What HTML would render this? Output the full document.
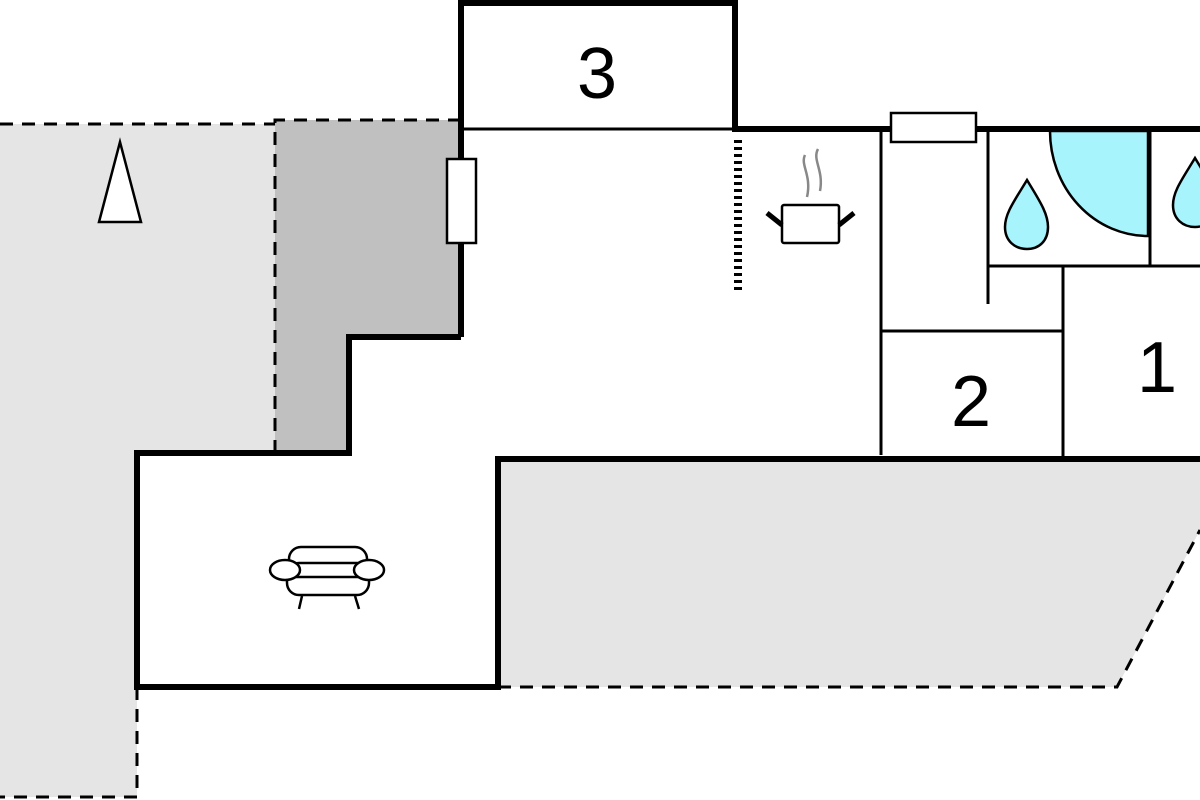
<!DOCTYPE html>
<html><head><meta charset="utf-8"><style>
html,body{margin:0;padding:0;background:#fff;}
svg{display:block;}
text{font-family:"Liberation Sans",sans-serif;fill:#000;}
</style></head><body>
<svg width="1200" height="800" viewBox="0 0 1200 800" xmlns="http://www.w3.org/2000/svg">
<polygon points="0,124 275,124 275,453 137,453 137,797 0,797" fill="#e5e5e5"/>
<polygon points="498,459 1200,459 1200,530 1117,687 498,687" fill="#e5e5e5"/>
<polygon points="275,120 461,120 461,337 349,337 349,453 275,453" fill="#c0c0c0"/>
<g stroke="#000" stroke-width="3" stroke-dasharray="13,9" fill="none">
<polyline points="0,124 275,124"/>
<polyline points="275,453 275,120 461,120"/>
<polyline points="137,687 137,797 0,797"/>
<polyline points="498,687 1117,687 1200,530"/>
</g>
<path d="M1050,131 A98,105 0 0 0 1148,236 L1148,131 Z" fill="#a8f4fc" stroke="#000" stroke-width="2.5"/>
<g stroke="#000" stroke-width="3" fill="none">
<line x1="461" y1="129" x2="735" y2="129"/>
<line x1="881" y1="129" x2="881" y2="455"/>
<line x1="881" y1="331" x2="1063" y2="331"/>
<line x1="1063" y1="266" x2="1063" y2="459"/>
<line x1="988" y1="266" x2="1200" y2="266"/>
<line x1="988" y1="129" x2="988" y2="304"/>
<line x1="1150" y1="129" x2="1150" y2="266"/>
</g>
<g stroke="#000" stroke-width="6" fill="none" stroke-linejoin="miter">
<polyline points="461,337 461,3 735,3 735,129 1200,129"/>
<polyline points="461,337 349,337 349,453 137,453 137,687 498,687 498,459 1200,459"/>
</g>
<rect x="447" y="159" width="29" height="84" fill="#fff" stroke="#000" stroke-width="2.5"/>
<rect x="891" y="113" width="85" height="29" fill="#fff" stroke="#000" stroke-width="2.5"/>
<line x1="738" y1="140" x2="738" y2="293" stroke="#000" stroke-width="8" stroke-dasharray="3,4"/>
<polygon points="120,142 99,222 141,222" fill="#fff" stroke="#000" stroke-width="2.5"/>
<g stroke="#000" stroke-width="2.5" fill="none">
<rect x="782" y="205" width="57" height="38" rx="2" fill="#fff"/>
<line x1="767" y1="213" x2="782" y2="225" stroke-width="5"/>
<line x1="854" y1="213" x2="839" y2="225" stroke-width="5"/>
</g>
<g stroke="#888" stroke-width="2.5" fill="none">
<path d="M805,155 C800,165 812,175 807,197"/>
<path d="M818,149 C812,160 824,170 820,191"/>
</g>
<g fill="#a8f4fc" stroke="#000" stroke-width="2.5">
<path d="M1027,180 C1015,200 1005,213 1005,227 C1005,241 1015,249 1027,249 C1039,249 1048,241 1048,227 C1048,213 1039,200 1027,180 Z"/>
<path d="M1195,158 C1183,178 1173,191 1173,205 C1173,219 1183,227 1195,227 C1207,227 1216,219 1216,205 C1216,191 1207,178 1195,158 Z"/>
</g>
<g stroke="#000" stroke-width="2.5" fill="#fff">
<rect x="289" y="547" width="78" height="40" rx="12"/>
<rect x="287" y="563" width="82" height="32" rx="12"/>
<line x1="295" y1="577" x2="361" y2="577"/>
<ellipse cx="285" cy="570" rx="15" ry="10"/>
<ellipse cx="369" cy="570" rx="15" ry="10"/>
<line x1="302" y1="596" x2="299" y2="609"/>
<line x1="355" y1="596" x2="359" y2="609"/>
</g>
<text x="597" y="98" font-size="72" text-anchor="middle">3</text>
<text x="971" y="426" font-size="72" text-anchor="middle">2</text>
<text x="1157" y="392" font-size="72" text-anchor="middle">1</text>
</svg>
</body></html>
